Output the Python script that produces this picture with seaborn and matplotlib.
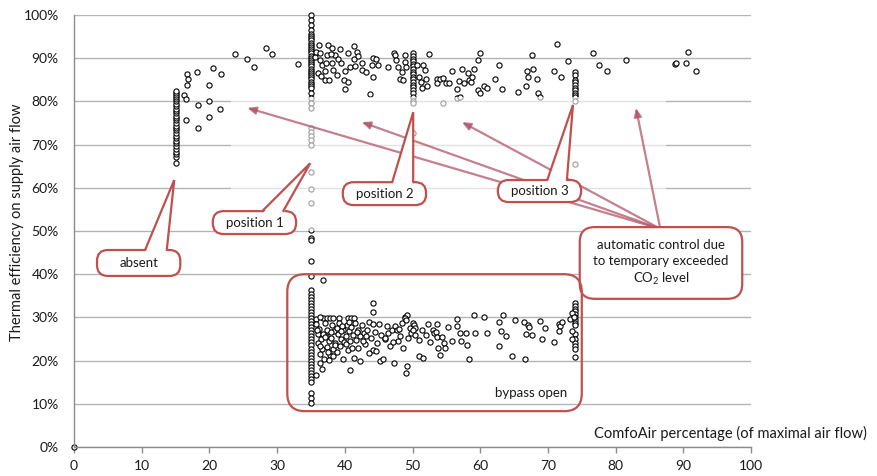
import numpy as np
import pandas as pd
import matplotlib
matplotlib.use("Agg")
import matplotlib.pyplot as plt
import seaborn as sns
from matplotlib.patches import FancyBboxPatch, Rectangle, Polygon
from matplotlib.ticker import FuncFormatter

# --- data (x = ComfoAir %, y = efficiency %) ---
# vertical stacks at the fan positions
col0_x = [0.0]
col0_y = [0.0]
col15_y = [65.8, 67.1, 67.8, 68.4, 69.0, 69.7, 70.3, 70.9, 71.5, 72.1, 72.7, 73.3,
           73.9, 74.4, 75.0, 75.6, 76.1, 76.7, 77.2, 77.8, 78.3, 78.9, 79.4, 80.0,
           80.5, 81.0, 81.5, 82.0, 82.5]
col35_y = [100.0, 98.8, 97.7, 96.5, 95.6, 95.1, 94.6, 94.1, 93.6, 93.1, 92.6, 92.1,
           91.6, 91.1, 90.6, 90.1, 89.6, 89.1, 88.6, 88.1, 87.6, 87.1, 86.6, 86.1,
           85.6, 85.1, 84.6, 84.1, 83.6, 83.1, 82.0, 80.8, 79.6, 78.5, 73.8, 73.0,
           72.0, 71.0, 70.0, 63.7, 59.7, 56.5, 50.2, 48.4, 47.9, 43.0, 39.6,
           36.3, 35.5, 34.8, 34.0, 33.3, 32.6, 31.9, 31.2, 30.5, 29.8, 29.1, 28.4,
           27.7, 27.0, 26.3, 25.6, 24.9, 24.2, 23.5, 22.8, 22.1, 21.4, 20.7, 20.0,
           19.3, 18.6, 17.9, 17.2, 16.5, 15.8, 15.1, 12.4, 11.3, 10.3]
col50_y = [91.1, 90.5, 89.9, 89.3, 88.7, 88.1, 87.5, 86.9, 86.3, 85.7, 85.1, 84.5,
           83.9, 83.3, 82.7, 82.0, 81.0, 80.2, 79.6, 72.6]
col74_y = [86.9, 86.2, 85.0, 84.4, 83.8, 83.2, 82.6, 82.0, 81.4, 81.0, 80.2, 65.5,
           33.3, 32.6, 32.0, 31.4, 30.8, 30.2, 29.4, 28.6, 28.2, 26.1, 24.9, 24.0,
           23.4, 22.8, 20.8]

# scattered points, high efficiency (bypass closed)
upper_x = [16.7, 16.8, 16.7, 16.3, 16.6, 16.6, 18.2, 18.3, 18.3, 20.0, 20.0, 20.0,
           20.6, 21.7, 21.6, 23.8, 25.5, 26.6, 28.3, 29.3, 33.1,
           35.6, 35.8, 36.4, 36.3, 36.7, 37.0, 37.0, 37.5, 37.7, 37.4, 38.1, 38.1,
           38.3, 38.6, 39.3, 39.5, 40.0, 39.9, 40.4, 40.0, 40.4, 40.8, 41.3, 41.3,
           41.5, 41.8, 42.0, 42.5, 42.6, 43.2, 44.0, 44.2, 44.6, 44.2, 44.9, 43.7,
           46.4, 47.2, 47.4, 47.6, 47.9, 48.2, 48.6, 48.9, 49.1, 48.9, 48.4,
           36.0, 36.5, 37.2, 38.8, 39.0, 36.2, 37.9,
           50.6, 50.9, 51.2, 51.4, 51.6, 51.8, 52.0, 52.2, 52.5, 53.6, 53.6, 54.1,
           54.5, 55.0, 55.4, 55.9, 56.5, 56.9, 57.3, 57.6, 58.2, 58.3, 58.6, 58.8,
           59.1, 59.6, 59.9, 59.7, 59.9, 60.5, 61.0, 62.2, 62.7, 63.2, 65.6, 66.8,
           66.9, 67.1, 67.7, 67.8, 68.4, 68.6, 70.9, 71.4, 72.0, 73.0, 76.6, 77.6,
           78.7, 81.6, 88.7, 88.9, 90.7, 90.4, 91.9,
           54.5, 56.5, 57.0, 68.8]
upper_y = [86.3, 85.3, 83.8, 81.5, 80.5, 75.8, 86.9, 79.1, 73.8, 83.9, 80.0, 76.5,
           87.8, 86.4, 78.3, 90.9, 89.8, 88.0, 92.4, 91.0, 88.7,
           90.3, 91.5, 91.3, 89.6, 88.4, 87.1, 85.0, 93.1, 85.0, 90.7, 92.3, 88.8,
           87.3, 90.7, 92.1, 88.8, 87.1, 85.0, 84.6, 82.8, 91.1, 88.0, 92.8, 89.7,
           88.2, 91.5, 90.4, 88.8, 87.3, 86.9, 88.4, 90.0, 89.7, 85.7, 88.4, 81.7,
           88.0, 91.1, 90.8, 89.6, 88.0, 85.3, 85.0, 89.2, 88.0, 90.7, 86.9,
           86.5, 85.8, 89.0, 86.0, 89.8, 93.0, 91.0,
           88.4, 85.7, 84.6, 83.0, 88.4, 87.3, 85.3, 83.6, 90.9, 85.3, 84.2, 85.3,
           85.5, 84.2, 84.2, 87.0, 82.9, 84.8, 87.6, 84.2, 86.5, 85.0, 84.6, 85.7,
           87.6, 89.6, 91.1, 82.6, 81.9, 83.6, 83.2, 85.3, 88.5, 82.9, 82.2, 83.6,
           87.0, 85.6, 90.8, 87.4, 85.1, 82.0, 87.1, 93.3, 85.6, 89.4, 91.1, 88.5,
           87.1, 89.5, 88.7, 88.9, 91.5, 88.8, 87.1,
           79.6, 80.7, 81.0, 81.1]

# scattered points, low efficiency (bypass open)
lower_x = [35.7, 35.7, 36.7, 36.8, 36.8, 37.3, 37.8, 38.3, 39.1, 40.5, 40.9, 41.4,
           44.2, 44.2, 48.9, 49.2,
           35.8, 36.2, 36.0, 36.5, 36.1, 36.6, 36.3, 36.9, 36.4,
           37.1, 37.4, 37.2, 37.6, 37.3, 37.8, 37.6,
           38.1, 38.4, 38.0, 38.6, 38.2, 38.8, 38.5,
           39.2, 39.0, 39.5, 39.3, 39.7, 39.8, 39.9,
           40.3, 40.1, 40.6, 40.7, 40.8, 40.4, 40.9,
           41.2, 41.4, 41.5, 41.7, 41.9, 42.2, 42.3,
           42.5, 42.8, 43.0, 43.3, 43.5, 43.8, 44.1,
           44.2, 44.5, 44.8, 45.1, 45.2, 45.4, 45.7,
           45.9, 46.2, 46.4, 46.7, 47.0, 47.3, 47.4,
           47.7, 47.9, 48.2, 48.4, 48.6, 48.9, 49.0,
           49.0, 49.2, 49.4, 49.6, 49.8,
           50.0, 50.2, 50.4, 50.0, 50.3, 50.9, 51.6, 51.0, 51.4,
           52.3, 52.0, 52.6, 53.0, 53.1, 53.5, 53.6, 53.6, 53.7, 54.1, 54.3, 54.7, 54.8,
           55.2, 55.9, 56.6, 56.6, 57.0, 57.1, 57.9, 58.1, 58.4, 59.1, 59.3, 60.6,
           61.0, 62.8, 62.8, 63.1, 63.4, 63.8, 64.7, 65.1, 66.4, 66.6, 66.7, 67.0,
           67.2, 67.7, 68.8, 69.1, 69.6, 70.9, 71.6, 71.8, 71.7, 72.1, 73.2, 73.6,
           73.8, 73.5, 73.6,
           35.9, 36.3, 36.8, 37.5, 38.0, 38.9, 39.6, 40.2, 41.0, 41.8, 42.7, 43.6,
           36.4, 37.0, 38.3, 39.4, 40.6, 42.0, 43.1, 44.6, 46.0, 47.1, 48.0]
lower_y = [29.6, 16.7, 18.0, 38.6, 29.9, 29.9, 29.9, 29.9, 29.9, 29.9, 29.9, 29.9,
           33.3, 31.2, 30.2, 30.6,
           28.5, 27.4, 26.2, 25.1, 24.0, 22.8, 21.5, 20.4, 19.4,
           28.7, 27.2, 25.8, 24.5, 23.2, 21.3, 20.1,
           28.2, 26.9, 25.3, 24.1, 22.6, 27.6, 23.6,
           28.6, 26.2, 25.0, 23.4, 20.3, 27.2, 24.2,
           28.3, 25.8, 26.9, 17.8, 24.6, 22.4, 27.8,
           26.0, 20.5, 28.8, 24.8, 27.0, 19.9, 25.6,
           28.2, 26.4, 23.9, 27.2, 29.0, 25.3, 22.5,
           28.4, 26.6, 24.1, 28.4, 19.8, 26.0, 20.4,
           24.9, 28.0, 26.5, 23.3, 27.0, 19.4, 28.0,
           27.2, 24.6, 25.8, 28.6, 22.9, 29.9, 29.4,
           17.2, 18.8, 25.2, 27.6, 26.4,
           28.8, 28.2, 27.6, 27.2, 26.0, 21.1, 20.5, 24.8, 27.1,
           28.4, 25.9, 24.3, 27.2, 26.5, 26.7, 28.4, 25.5, 23.0, 21.3, 25.5, 24.0, 23.0,
           27.7, 24.6, 29.6, 27.9, 26.3, 24.5, 26.3, 23.6, 20.3, 30.6, 26.3, 30.0,
           26.5, 29.0, 23.4, 26.9, 30.6, 25.7, 21.1, 29.3, 28.9, 20.4, 26.2, 28.2,
           27.8, 25.9, 29.1, 24.9, 27.5, 24.3, 28.5, 28.0, 26.9, 29.0, 29.6, 31.1,
           30.0, 24.9, 26.8,
           27.0, 23.3, 26.1, 22.0, 26.7, 21.9, 27.9, 23.8, 22.9, 26.6, 24.6, 21.8,
           30.0, 25.5, 21.0, 26.8, 28.9, 23.0, 25.8, 22.2, 25.3, 24.3, 27.4]

xticks = [0, 10, 20, 30, 40, 50, 60, 70, 80, 90, 100]
yticks = [0, 10, 20, 30, 40, 50, 60, 70, 80, 90, 100]
xlabel = "ComfoAir percentage (of maximal air flow)"
ylabel = "Thermal efficiency on supply air flow"

df = pd.DataFrame({
    "flow": col0_x + [15.0] * len(col15_y) + [35.0] * len(col35_y)
            + [50.0] * len(col50_y) + [74.0] * len(col74_y) + upper_x + lower_x,
    "eff": col0_y + col15_y + col35_y + col50_y + col74_y + upper_y + lower_y,
})

sns.set_style("white")
plt.rcParams["font.family"] = ["Lato", "DejaVu Sans"]
plt.rcParams["mathtext.fontset"] = "custom"
plt.rcParams["mathtext.rm"] = "Lato"

fig = plt.figure(figsize=(8.78, 4.76), dpi=100)
ax = fig.add_axes([0.0843, 0.0609, 0.7711, 0.9076])

sns.scatterplot(data=df, x="flow", y="eff", ax=ax, marker="o", s=14,
                facecolor="white", edgecolor="black", linewidth=0.8,
                clip_on=False, zorder=2)

ax.set_xlim(0, 100)
ax.set_ylim(0, 100)
ax.set_xticks(xticks)
ax.set_yticks(yticks)
ax.yaxis.set_major_formatter(FuncFormatter(lambda v, p: f"{v:.0f}%"))
ax.set_xlabel("")
ax.set_ylabel("")
ax.grid(axis="y", color="#b4b4b4", linewidth=1.0, zorder=0)
ax.set_axisbelow(True)
for s in ["top", "right"]:
    ax.spines[s].set_visible(False)
for s in ["left", "bottom"]:
    ax.spines[s].set_color("#8c8c8c")
    ax.spines[s].set_linewidth(1.0)
ax.tick_params(axis="x", length=4, width=1, color="#8c8c8c", pad=5,
               labelsize=10, labelcolor="#1a1a1a", bottom=True)
ax.tick_params(axis="y", length=0, pad=11, labelsize=10, labelcolor="#1a1a1a")

fig.text(867 / 878, 1 - 433 / 476, xlabel, ha="right", va="center",
         fontsize=10.5, color="#1a1a1a")
fig.text(17 / 878, 1 - 222 / 476, ylabel, rotation=90, ha="center", va="center",
         fontsize=10.5, color="#1a1a1a")

# faded band over the automatic-control region
ax.add_patch(Rectangle((23.2, 50.0), 64.2, 31.0, facecolor="white",
                       edgecolor="none", alpha=0.62, zorder=3))

red = "#c0504d"
aspect = 6.77 / 4.32

# arrows from the automatic control callout
arrow_tips = [(25.6, 78.5), (42.5, 75.2), (57.3, 75.2), (83.0, 78.5)]
for tx, ty in arrow_tips:
    ax.annotate("", xy=(tx, ty), xytext=(86.6, 50.5),
                arrowprops=dict(arrowstyle="-|>,head_length=0.5,head_width=0.22",
                                color="#b0566a", lw=1.6, alpha=0.75,
                                shrinkA=0, shrinkB=0),
                zorder=4, annotation_clip=False)


def callout(x0, y0, x1, y1, text, base=None, tip=None, fill=True, r=1.6,
            tx=None, ty=None, ha="center", size=9.5):
    box = FancyBboxPatch((x0, y0), x1 - x0, y1 - y0,
                         boxstyle=f"round,pad=0,rounding_size={r}",
                         mutation_aspect=aspect,
                         facecolor="white" if fill else "none",
                         edgecolor=red, linewidth=1.6, zorder=5, clip_on=False)
    ax.add_patch(box)
    if tip is not None:
        b0, b1 = base
        ax.add_patch(Polygon([(b0, y1 - 0.6), tip, (b1, y1 - 0.6)],
                             closed=True, facecolor="white", edgecolor="none",
                             zorder=6, clip_on=False))
        ax.plot([b0, tip[0], b1], [y1, tip[1], y1], color=red, lw=1.6,
                zorder=6, clip_on=False, solid_joinstyle="miter")
    if tx is None:
        tx = (x0 + x1) / 2
    if ty is None:
        ty = (y0 + y1) / 2
    ax.text(tx, ty, text, ha=ha, va="center", fontsize=size, color="#1a1a1a",
            zorder=7, linespacing=1.35)


callout(3.4, 39.6, 15.7, 45.6, "absent", base=(10.5, 13.7), tip=(14.8, 61.8))
callout(20.5, 49.3, 32.8, 54.6, "position 1", base=(27.8, 30.9), tip=(34.9, 65.7))
callout(39.7, 56.0, 52.0, 61.3, "position 2", base=(47.0, 50.1), tip=(50.1, 77.5))
callout(62.6, 56.7, 74.9, 61.8, "position 3", base=(69.9, 72.8), tip=(73.7, 79.2))
callout(74.7, 34.3, 98.7, 50.9,
        "automatic control due\nto temporary exceeded\n$\\mathregular{CO_2}$ level",
        r=2.2, ty=42.6)
callout(31.5, 8.3, 75.0, 40.0, "bypass open", fill=False, r=2.6,
        tx=72.9, ty=12.4, ha="right")

fig.savefig("out.png", dpi=100)
